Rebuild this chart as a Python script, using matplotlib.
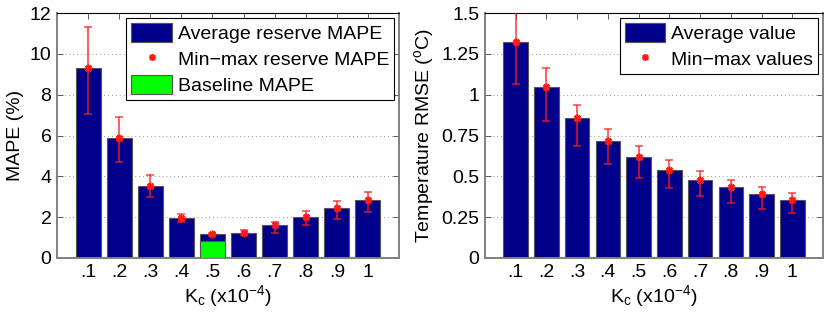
"""Reserve MAPE and temperature RMSE against K_c, as two bar charts with min-max error bars."""

import matplotlib
matplotlib.use("Agg")
import matplotlib.pyplot as plt
import numpy as np

plt.rcParams["font.family"] = ["Liberation Sans", "DejaVu Sans"]
plt.rcParams["mathtext.fontset"] = "custom"
plt.rcParams["mathtext.rm"] = "Liberation Sans"
plt.rcParams["mathtext.it"] = "Liberation Sans"

kc_labels = [".1", ".2", ".3", ".4", ".5", ".6", ".7", ".8", ".9", "1"]

# left panel: reserve MAPE (%)
mape_avg = [9.33, 5.87, 3.53, 1.97, 1.16, 1.23, 1.60, 2.03, 2.46, 2.84]
mape_min = [7.07, 4.70, 3.00, 1.74, 1.10, 1.15, 1.24, 1.62, 1.93, 2.26]
mape_max = [11.30, 6.90, 4.05, 2.15, 1.22, 1.35, 1.77, 2.30, 2.79, 3.21]
baseline_idx = 4
baseline_mape = 0.85

# right panel: temperature RMSE (deg C)
rmse_avg = [1.32, 1.046, 0.856, 0.718, 0.618, 0.540, 0.479, 0.432, 0.393, 0.358]
rmse_min = [1.064, 0.841, 0.686, 0.573, 0.487, 0.426, 0.377, 0.336, 0.303, 0.276]
rmse_max = [1.52, 1.163, 0.937, 0.790, 0.684, 0.598, 0.532, 0.479, 0.436, 0.399]

BAR = "#00008B"
EDGE = "#555555"
RED = "#FF1A1A"
FS = 14
STAR = (8, 2, 0)


def style_axes(ax, yticks, yticklabels, ylim):
    ax.set_xlim(0, 11)
    ax.set_ylim(*ylim)
    ax.set_xticks(np.arange(1, 11))
    ax.set_xticklabels(kc_labels)
    ax.set_yticks(yticks)
    ax.set_yticklabels(yticklabels)
    ax.tick_params(direction="in", length=4, width=0.6, labelsize=FS,
                   top=True, right=True, color="#444444", pad=4)
    ax.yaxis.grid(True, linestyle=(0, (1, 3)), color="#999999", linewidth=0.7)
    ax.set_axisbelow(True)
    for side in ("left", "bottom", "right"):
        ax.spines[side].set_color("#808080")
        ax.spines[side].set_linewidth(1.4)
    ax.spines["top"].set_color("black")
    ax.spines["top"].set_linewidth(0.8)
    ax.set_xlabel(r"K$_\mathrm{c}$ (x10$^{-4}$)", fontsize=FS, labelpad=2)


def draw_errors(ax, x, avg, lo, hi):
    avg = np.asarray(avg)
    yerr = [avg - np.asarray(lo), np.asarray(hi) - avg]
    ax.errorbar(x, avg, yerr=yerr, fmt="none", ecolor=RED, alpha=0.75,
                elinewidth=1.3, capsize=3, capthick=1.2, zorder=4)
    ax.plot(x, avg, linestyle="none", marker=STAR, color=RED, markersize=5.5,
            markeredgewidth=1.2, zorder=5)


fig = plt.figure(figsize=(8.3, 3.19), dpi=100)
ax1 = fig.add_axes([57 / 830, 61 / 319, 342 / 830, 245 / 319])
ax2 = fig.add_axes([485 / 830, 61 / 319, 338 / 830, 245 / 319])

x = np.arange(1, 11)
legend_kw = dict(loc="upper right", fontsize=FS, fancybox=False, edgecolor="black",
                 framealpha=1, handlelength=2.1, handleheight=1.15, handletextpad=0.3,
                 borderpad=0.25, labelspacing=0.3, borderaxespad=0.25)

# left chart
b1 = ax1.bar(x, mape_avg, width=0.8, color=BAR, edgecolor=EDGE, linewidth=0.8, zorder=2)
b2 = ax1.bar(x[baseline_idx], baseline_mape, width=0.8, color="#00FF00",
             edgecolor=EDGE, linewidth=0.8, zorder=3)
draw_errors(ax1, x, mape_avg, mape_min, mape_max)
star1 = ax1.plot([], [], linestyle="none", marker=STAR, color=RED, markersize=5,
                 markeredgewidth=1.1)[0]
style_axes(ax1, np.arange(0, 13, 2), [str(v) for v in range(0, 13, 2)], (0, 12))
ax1.set_ylabel("MAPE (%)", fontsize=FS, labelpad=4)
leg1 = ax1.legend([b1, star1, b2],
                  ["Average reserve MAPE", "Min\u2212max reserve MAPE", "Baseline MAPE"],
                  **legend_kw)
leg1.get_frame().set_linewidth(0.8)

# right chart
b3 = ax2.bar(x, rmse_avg, width=0.8, color=BAR, edgecolor=EDGE, linewidth=0.8, zorder=2)
draw_errors(ax2, x, rmse_avg, rmse_min, rmse_max)
star2 = ax2.plot([], [], linestyle="none", marker=STAR, color=RED, markersize=5,
                 markeredgewidth=1.1)[0]
style_axes(ax2, np.arange(0, 1.51, 0.25), ["0", "0.25", "0.5", "0.75", "1", "1.25", "1.5"], (0, 1.5))
ax2.set_ylabel(r"Temperature RMSE ($^\mathrm{o}$C)", fontsize=FS, labelpad=4)
leg2 = ax2.legend([b3, star2], ["Average value", "Min\u2212max values"], **legend_kw)
leg2.get_frame().set_linewidth(0.8)

fig.savefig("out.png", dpi=100)
